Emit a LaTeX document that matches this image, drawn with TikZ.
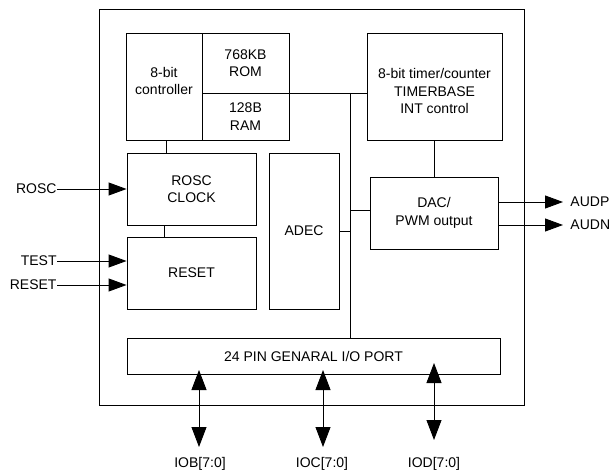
\documentclass[tikz,border=0pt]{standalone}
\usepackage{fontspec}
\setmainfont{Liberation Sans}
\usetikzlibrary{arrows.meta}
\begin{document}
\begin{tikzpicture}[x=1pt,y=-1pt, line width=0.9pt,
  blk/.style={draw, rectangle, align=center, inner sep=0pt, font=\fontsize{14}{17.5}\selectfont},
  lbl/.style={font=\fontsize{14}{17.5}\selectfont, align=center, inner sep=0pt},
  harr/.style={-{Triangle[length=18pt,width=13pt]}},
  varr/.style={{Triangle[length=20pt,width=15pt]}-{Triangle[length=20pt,width=15pt]}}]
\useasboundingbox (0,0) rectangle (612,473);
% outer chip
\node[blk, minimum width=425pt, minimum height=396pt] (chip) at (311.5,207) {};
% blocks
\node[blk, minimum width=76pt, minimum height=107pt] (ctrl) at (164,86.5) {};
\node[lbl] (ctrltxt) at (164,81) {8-bit\\controller};
\node[blk, minimum width=87pt, minimum height=60pt] (rom) at (245.5,63) {768KB\\ROM};
\node[blk, minimum width=87pt, minimum height=47pt] (ram) at (245.5,116.5) {128B\\RAM};
\node[blk, minimum width=135pt, minimum height=107pt] (timer) at (434.5,86.5) {};
\node[lbl] (timertxt) at (434.5,91) {8-bit timer/counter\\TIMERBASE\\INT control};
\node[blk, minimum width=128pt, minimum height=72pt] (dac) at (434,213) {DAC/\\PWM output};
\node[blk, minimum width=129pt, minimum height=72pt] (rosc) at (191.5,189) {ROSC\\CLOCK};
\node[blk, minimum width=129pt, minimum height=72pt] (reset) at (191.5,273) {RESET};
\node[blk, minimum width=70pt, minimum height=156pt] (adec) at (304,231) {ADEC};
\node[blk, minimum width=373pt, minimum height=36pt] (port) at (313.5,356) {24 PIN GENARAL I/O PORT};
% internal connections
\coordinate (bustop) at (350,93);
\draw (rom.south east) -- (timer.west |- rom.south east);
\draw (bustop) -- (bustop |- port.north);
\draw (adec.east) -- (adec.east -| bustop);
\draw ([yshift=3pt]dac.west) -- ([yshift=3pt]dac.west -| bustop);
\draw (timer.south) -- (timer.south |- dac.north);
\draw ([xshift=2pt]ctrl.south) -- ([xshift=2pt]ctrl.south |- rosc.north);
\draw ([xshift=164pt-191.5pt]rosc.south) -- ([xshift=164pt-191.5pt]reset.north);
% outputs
\coordinate (audp) at (563,202);
\coordinate (audn) at (563,225);
\draw[harr] ([yshift=11pt]dac.east) -- (audp);
\draw[harr] ([yshift=-12pt]dac.east) -- (audn);
\node[lbl, anchor=west] (audpl) at (570,202) {AUDP};
\node[lbl, anchor=west] (audnl) at (570,225) {AUDN};
% inputs
\node[lbl, anchor=east] (roscin) at (57,189) {ROSC};
\node[lbl, anchor=east] (testin) at (57,261) {TEST};
\node[lbl, anchor=east] (resetin) at (57,285) {RESET};
\draw[harr] (roscin.east) -- (rosc.west);
\draw[harr] (testin.east) -- (testin.east -| reset.west);
\draw[harr] (resetin.east) -- (resetin.east -| reset.west);
% I/O ports
\coordinate (iobt) at (199,370); \coordinate (iobb) at (199,447);
\coordinate (ioct) at (323,370); \coordinate (iocb) at (323,447);
\coordinate (iodt) at (434,363); \coordinate (iodb) at (434,440);
\draw[varr] (iobt) -- (iobb);
\draw[varr] (ioct) -- (iocb);
\draw[varr] (iodt) -- (iodb);
\node[lbl] (iob) at (200,464) {IOB[7:0]};
\node[lbl] (ioc) at (322,464) {IOC[7:0]};
\node[lbl] (iod) at (434,464) {IOD[7:0]};
\end{tikzpicture}
\end{document}
